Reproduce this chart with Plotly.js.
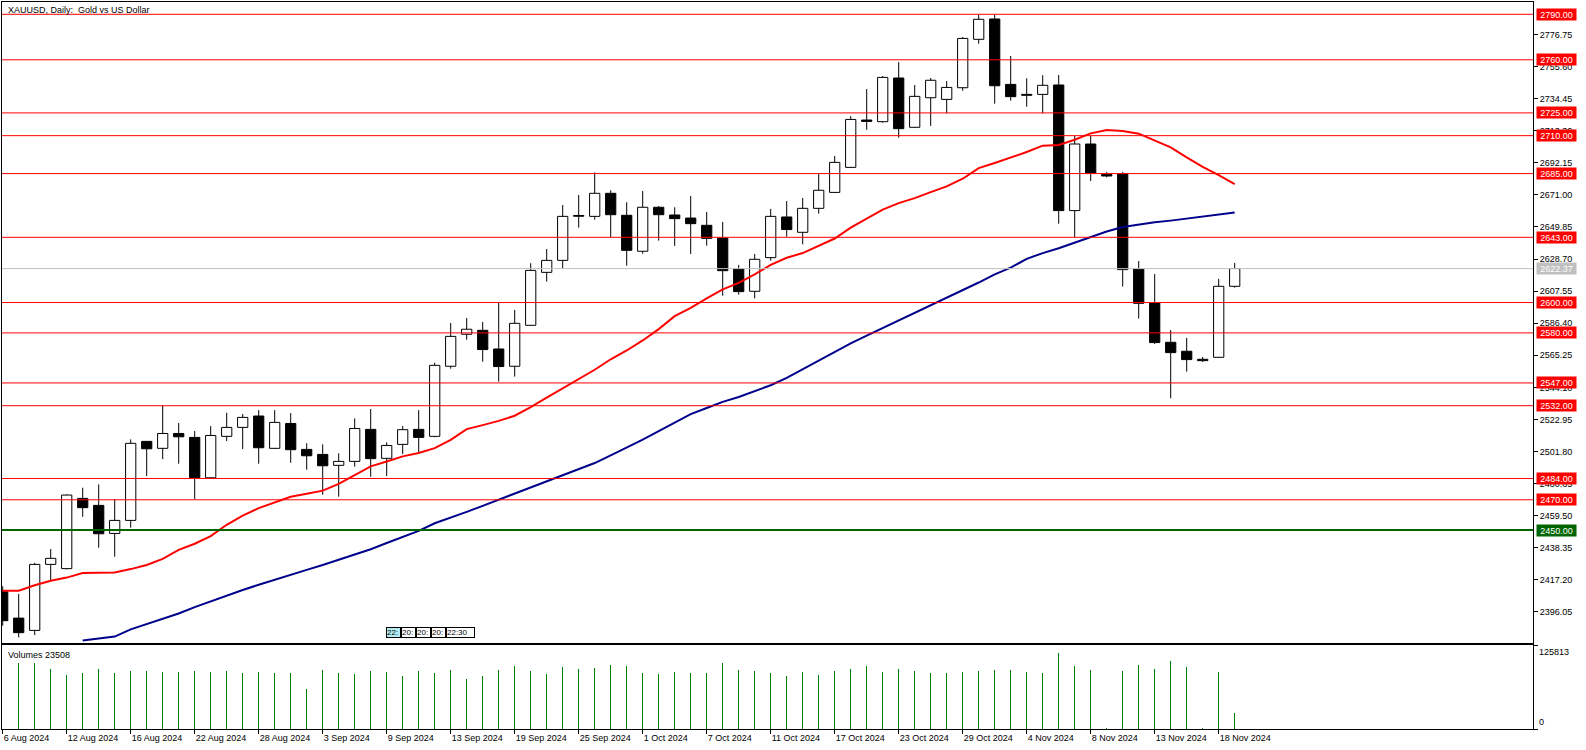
<!DOCTYPE html>
<html><head><meta charset="utf-8">
<script src="https://cdn.plot.ly/plotly-3.0.1.min.js"></script>
<style>html,body{margin:0;padding:0;background:#fff;}#chart{width:1586px;height:750px;}</style>
</head><body><div id="chart"></div>
<script>
// ---- data ----
const dates = ['6 Aug 2024','7 Aug 2024','8 Aug 2024','9 Aug 2024','12 Aug 2024','13 Aug 2024','14 Aug 2024','15 Aug 2024','16 Aug 2024','19 Aug 2024','20 Aug 2024','21 Aug 2024','22 Aug 2024','23 Aug 2024','26 Aug 2024','27 Aug 2024','28 Aug 2024','29 Aug 2024','30 Aug 2024',
'2 Sep 2024','3 Sep 2024','4 Sep 2024','5 Sep 2024','6 Sep 2024','9 Sep 2024','10 Sep 2024','11 Sep 2024','12 Sep 2024','13 Sep 2024','16 Sep 2024','17 Sep 2024','18 Sep 2024','19 Sep 2024','20 Sep 2024','23 Sep 2024','24 Sep 2024','25 Sep 2024','26 Sep 2024','27 Sep 2024','30 Sep 2024',
'1 Oct 2024','2 Oct 2024','3 Oct 2024','4 Oct 2024','7 Oct 2024','8 Oct 2024','9 Oct 2024','10 Oct 2024','11 Oct 2024','14 Oct 2024','15 Oct 2024','16 Oct 2024','17 Oct 2024','18 Oct 2024','21 Oct 2024','22 Oct 2024','23 Oct 2024','24 Oct 2024','25 Oct 2024','28 Oct 2024','29 Oct 2024','30 Oct 2024','31 Oct 2024',
'1 Nov 2024','4 Nov 2024','5 Nov 2024','6 Nov 2024','7 Nov 2024','8 Nov 2024','10 Nov 2024','11 Nov 2024','12 Nov 2024','13 Nov 2024','14 Nov 2024','15 Nov 2024','17 Nov 2024','18 Nov 2024','19 Nov 2024'];

const openP = [2409.4,2392.0,2383.9,2427.4,2424.6,2470.9,2466.3,2447.8,2456.4,2508.5,2503.9,2513.7,2511.1,2484.5,2511.8,2517.7,2525.2,2503.9,2520.3,
2503.2,2499.9,2492.7,2495.3,2516.4,2497.3,2506.5,2516.4,2511.8,2558.0,2579.1,2581.7,2569.4,2558.0,2585.0,2619.9,2627.8,2657.4,2656.8,2672.0,2657.5,
2633.8,2662.8,2657.7,2655.7,2650.9,2642.5,2622.1,2607.4,2629.6,2656.4,2646.3,2662.1,2672.6,2689.1,2720.3,2719.2,2748.0,2715.5,2735.0,2733.9,2741.6,2773.5,2786.9,
2743.8,2737.2,2737.2,2743.4,2660.6,2704.5,2684.5,2685.0,2622.1,2599.7,2573.8,2567.9,2562.6,2563.9,2610.7];
const highP = [2413.0,2407.9,2428.5,2437.5,2473.5,2477.9,2480.1,2470.2,2509.8,2508.7,2532.2,2520.6,2515.3,2518.6,2527.4,2526.5,2529.1,2529.1,2527.1,
2507.2,2506.5,2500.6,2523.6,2529.8,2507.8,2518.6,2529.1,2560.4,2586.5,2589.8,2587.2,2599.9,2595.1,2625.9,2635.3,2664.3,2670.9,2685.8,2674.0,2666.1,
2673.5,2663.6,2662.8,2670.2,2659.7,2653.1,2624.8,2632.0,2661.7,2666.9,2668.9,2684.9,2696.6,2722.9,2740.7,2749.3,2758.5,2743.4,2748.0,2746.0,2775.0,2789.7,2789.7,
2762.5,2747.8,2749.8,2750.0,2709.8,2709.8,2686.1,2686.1,2627.4,2618.8,2581.9,2576.7,2564.1,2615.6,2626.1];
const lowP = [2387.0,2379.3,2380.8,2417.1,2424.1,2458.8,2438.4,2432.5,2451.6,2485.6,2496.8,2493.8,2470.5,2484.2,2508.7,2503.4,2493.8,2503.5,2494.4,
2489.8,2473.3,2472.0,2491.8,2485.2,2485.6,2500.1,2501.0,2511.2,2556.4,2575.5,2561.0,2547.9,2551.2,2584.6,2613.8,2622.3,2649.4,2654.6,2643.0,2624.3,
2632.2,2640.8,2637.3,2632.0,2637.5,2604.5,2605.2,2602.7,2627.6,2643.4,2638.4,2658.6,2672.3,2688.8,2713.9,2718.6,2708.7,2715.2,2716.4,2724.7,2739.6,2770.6,2731.1,
2733.1,2729.1,2724.7,2652.0,2643.0,2680.1,2682.5,2610.5,2589.4,2572.7,2536.9,2554.5,2560.8,2563.5,2609.8];
const closeP = [2390.3,2382.4,2427.4,2431.4,2473.1,2464.8,2447.6,2456.4,2507.2,2503.6,2513.7,2511.5,2484.5,2512.4,2517.7,2524.3,2504.3,2521.0,2503.0,
2499.0,2492.4,2495.3,2517.0,2497.1,2505.8,2516.2,2511.1,2558.6,2577.7,2582.4,2569.0,2557.8,2586.3,2621.2,2627.8,2656.8,2656.9,2672.0,2657.9,2634.4,
2662.8,2657.9,2655.3,2652.0,2642.3,2621.0,2607.2,2628.5,2656.8,2648.1,2662.1,2674.0,2692.4,2720.7,2719.4,2748.4,2714.6,2735.9,2746.5,2741.8,2774.1,2786.7,2742.9,
2735.7,2736.6,2743.2,2660.6,2704.5,2685.2,2683.4,2621.7,2599.5,2573.6,2567.0,2562.4,2561.7,2610.7,2622.4];
const volume = [null,99000,99000,90000,81100,84000,90000,84000,87000,87000,85500,85500,87000,85500,87000,84000,85500,84000,84000,
60200,88500,84000,82600,87000,85500,79600,87000,84000,88500,75100,79600,88500,94500,87000,82600,93000,90000,91500,96000,94500,
84000,82600,85500,84000,84000,99000,88500,87000,84000,79600,85500,81100,87000,90000,94500,85500,90000,87000,84000,84000,85500,87000,88500,
88500,85500,84000,113900,94500,88500,1500,87000,96000,90000,101900,93000,1500,85500,23508];
const maRed = [2410.1,2410.1,2413.6,2416.6,2418.7,2421.7,2421.9,2422.0,2424.3,2427.0,2431.0,2437.0,2441.0,2446.0,2453.5,2459.5,2464.5,2468.5,2472.0,
2474.0,2476.0,2480.5,2486.0,2492.0,2495.2,2498.6,2500.8,2504.0,2509.5,2516.6,2519.2,2522.0,2525.4,2531.0,2537.3,2543.5,2549.6,2555.7,2562.6,2568.4,
2575.0,2582.5,2591.0,2596.5,2602.8,2608.7,2613.0,2618.5,2624.8,2629.5,2632.6,2637.5,2642.2,2649.4,2655.2,2661.3,2665.5,2668.8,2672.8,2676.6,2681.6,2688.6,2692.0,
2695.5,2699.2,2703.4,2703.9,2707.3,2711.5,2713.7,2713.0,2711.3,2707.0,2702.3,2695.7,2689.4,2684.0,2678.1];
const maBlue = [null,null,null,null,null,2377.3,2378.8,2379.8,2384.6,2388.2,2391.8,2395.0,2399.2,2403.0,2407.1,2410.5,2414.0,2417.4,2420.5,
2423.8,2427.0,2430.3,2434.0,2437.4,2441.5,2445.6,2449.5,2454.5,2458.0,2462.0,2466.0,2470.0,2473.8,2477.9,2481.7,2485.7,2490.0,2494.2,2499.2,2504.2,
2509.7,2515.2,2521.0,2526.5,2530.5,2534.5,2537.7,2541.5,2545.5,2550.3,2556.0,2561.4,2567.2,2573.1,2578.2,2583.2,2588.0,2593.5,2598.3,2603.3,2608.0,2613.2,2618.6,
2623.0,2628.8,2632.6,2635.8,2639.5,2643.3,2646.8,2649.8,2651.6,2652.9,2654.0,2655.3,2656.6,2658.0,2659.3];
const redLevels = [2790,2760,2725,2710,2685,2643,2600,2580,2547,2532,2484,2470];
const greenLevel = 2450;
const bidPrice = 2622.37;
const priceTicks = [2396.05,2417.20,2438.35,2459.50,2480.65,2501.80,2522.95,2544.10,2565.25,2586.40,2607.55,2628.70,2649.85,2671.00,2692.15,2713.30,2734.45,2755.60,2776.75];
const volumeMax = 125813;
const lastVolume = 23508;
const timeBoxes = ['22:','20:','20:','20:','22:30'];

// ---- build traces ----
const n = dates.length;
const wx = [], wy = [];
for (let i = 0; i < n; i++) {
  const top = Math.max(openP[i], closeP[i]), bot = Math.min(openP[i], closeP[i]);
  wx.push(dates[i], dates[i], null, dates[i], dates[i], null);
  wy.push(highP[i], top, null, bot, lowP[i], null);
}
const bodyBase = openP.map((o,i)=>Math.min(o, closeP[i]));
const bodyH = openP.map((o,i)=>Math.max(Math.abs(closeP[i]-o), 0.3));
const bodyCol = openP.map((o,i)=> closeP[i] >= o ? '#ffffff' : '#000000');

const traces = [
  {type:'scatter', mode:'lines', x:wx, y:wy, xaxis:'x2', yaxis:'y', line:{color:'#000', width:1}, hoverinfo:'skip', connectgaps:false},
  {type:'bar', x:dates, base:bodyBase, y:bodyH, xaxis:'x2', yaxis:'y', width:0.64,
   marker:{color:bodyCol, line:{color:'#000', width:1}}, hoverinfo:'skip'},
  {type:'scatter', mode:'lines', x:dates, y:maBlue, xaxis:'x2', yaxis:'y', line:{color:'#00008b', width:2}, hoverinfo:'skip'},
  {type:'scatter', mode:'lines', x:dates, y:maRed, xaxis:'x2', yaxis:'y', line:{color:'#ff0000', width:2}, hoverinfo:'skip'},
  {type:'bar', x:dates, y:volume, xaxis:'x', yaxis:'y2', width:0.07, marker:{color:'#008000', line:{width:0}}, hoverinfo:'skip'}
];

const dateTicks = dates.filter((d,i)=> i % 4 === 0);
const fontFam = 'Liberation Sans, Arial, sans-serif';

const shapes = [];
redLevels.forEach(l => shapes.push({type:'line', xref:'paper', x0:0, x1:1, yref:'y', y0:l, y1:l, line:{color:'#ff0000', width:1}}));
shapes.push({type:'line', xref:'paper', x0:0, x1:1, yref:'y', y0:greenLevel, y1:greenLevel, line:{color:'#006400', width:2}});
shapes.push({type:'line', xref:'paper', x0:0, x1:1, yref:'y', y0:bidPrice, y1:bidPrice, line:{color:'#c0c0c0', width:1}});

const annotations = [];
function levelLabel(v, bg){
  annotations.push({xref:'paper', x:1, xanchor:'left', xshift:3, yref:'y', y:v, yanchor:'middle',
    text:v.toFixed(2), showarrow:false, bgcolor:bg, borderpad:0, width:39, height:11, align:'center',
    font:{family:fontFam, size:9, color:'#ffffff'}});
}
redLevels.forEach(l => levelLabel(l, '#ff0000'));
levelLabel(greenLevel, '#006400');
levelLabel(bidPrice, '#c0c0c0');

annotations.push({xref:'paper', x:0, xanchor:'left', xshift:4, yref:'paper', y:0.989, yanchor:'middle',
  text:'XAUUSD, Daily:  Gold vs US Dollar', showarrow:false, font:{family:fontFam, size:9, color:'#000'}});
annotations.push({xref:'paper', x:0, xanchor:'left', xshift:4, yref:'paper', y:0.1018, yanchor:'middle',
  text:'Volumes ' + lastVolume, showarrow:false, font:{family:fontFam, size:9, color:'#000'}});
annotations.push({xref:'paper', x:1, xanchor:'left', xshift:4, yref:'y2', y:volumeMax, yanchor:'top',
  text:String(volumeMax), showarrow:false, font:{family:fontFam, size:9, color:'#000'}});
annotations.push({xref:'paper', x:1, xanchor:'left', xshift:4, yref:'y2', y:0, yanchor:'bottom',
  text:'0', showarrow:false, font:{family:fontFam, size:9, color:'#000'}});

// small time boxes near bottom of price panel
const boxLeft = [386, 401, 416, 431, 446];
const boxW = [13, 13, 13, 13, 27];
timeBoxes.forEach((t,k)=>{
  annotations.push({xref:'paper', x:(boxLeft[k]-2)/1531, xanchor:'left', yref:'paper', y:0.1331, yanchor:'middle',
    text:t, showarrow:false, width:boxW[k], height:9, borderpad:0, borderwidth:1, bordercolor:'#000',
    bgcolor: k===0 ? '#b4eef4' : '#ffffff', align:'left', font:{family:fontFam, size:8, color:'#000'}});
});

const layout = {
  width:1586, height:750,
  margin:{l:2, r:53, t:2, b:21, pad:0},
  paper_bgcolor:'#ffffff', plot_bgcolor:'#ffffff',
  showlegend:false, hovermode:false, bargap:0,
  font:{family:fontFam, size:9, color:'#000'},
  xaxis:{type:'category', anchor:'y2', domain:[0,1], range:[-0.044, 95.644],
    showline:true, mirror:true, linecolor:'#000', linewidth:1, showgrid:false, zeroline:false,
    tickmode:'array', tickvals:dateTicks, ticktext:dateTicks, ticks:'outside', ticklen:4, tickcolor:'#000',
    ticklabelposition:'outside right', tickfont:{family:fontFam, size:9, color:'#000'}, fixedrange:true},
  xaxis2:{type:'category', anchor:'y', matches:'x', showticklabels:false, showline:true, mirror:true,
    linecolor:'#000', linewidth:1, showgrid:false, zeroline:false, ticks:''},
  yaxis:{domain:[0.1179, 1], anchor:'x2', side:'right', range:[2375.4, 2798.1],
    showline:true, mirror:true, linecolor:'#000', linewidth:1, showgrid:false, zeroline:false,
    tickmode:'array', tickvals:priceTicks, ticktext:priceTicks.map(v=>v.toFixed(2)),
    ticks:'outside', ticklen:4, tickcolor:'#000', tickfont:{family:fontFam, size:9, color:'#000'}},
  yaxis2:{domain:[0, 0.1151], anchor:'x', side:'right', range:[0, volumeMax],
    showline:true, mirror:true, linecolor:'#000', linewidth:1, showgrid:false, zeroline:false,
    tickmode:'array', tickvals:[0, volumeMax], showticklabels:false, ticks:'outside', ticklen:4, tickcolor:'#000'},
  shapes: shapes,
  annotations: annotations
};

Plotly.newPlot('chart', traces, layout, {staticPlot:true, displayModeBar:false});
</script>
</body></html>
